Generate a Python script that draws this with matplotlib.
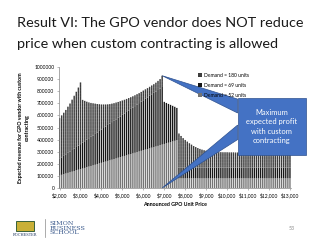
import matplotlib as mpl
mpl.use('Agg')
import matplotlib.pyplot as plt
from matplotlib.patches import Polygon, Rectangle

plt.rcParams['font.family'] = ['Lato', 'DejaVu Sans']
plt.rcParams['hatch.linewidth'] = 0.5

# announced GPO unit price, one bar per $100
prices = list(range(2000, 13100, 100))

# top of the stack (thousands)
total = [578, 600, 622, 645, 672, 698, 730, 762, 795, 830, 872,
         728, 720, 713, 707, 703, 700, 697, 694, 692, 690,
         690, 690, 691, 693, 697, 701, 706, 711, 717, 723,
         729, 736, 743, 750, 758, 766, 775, 784, 794, 805,
         815, 825, 836, 847, 858, 870, 885, 900, 928,
         712, 703, 695, 687, 679, 671, 662,
         450, 430, 412, 397, 383, 370, 358, 347, 338, 330,
         323, 317, 312, 308, 305, 302, 300, 298, 297, 296,
         296, 295, 295, 295, 294, 294, 294, 293, 293, 293,
         292, 292, 292, 292, 291, 291, 291, 291, 290, 290,
         290, 290, 290, 289, 289, 289, 289, 289, 288, 288,
         288, 288, 288, 288]

# Demand = 52 units (bottom layer, thousands)
d52 = [104, 109, 114, 120, 125, 130, 135, 140, 146, 151, 156,
       161, 166, 172, 177, 182, 187, 192, 198, 203, 208,
       213, 218, 224, 229, 234, 239, 244, 250, 255, 260,
       265, 270, 276, 281, 286, 291, 296, 302, 307, 312,
       317, 322, 328, 333, 338, 343, 348, 354, 359,
       364, 369, 374, 380, 385, 390, 395,
       80, 80, 80, 80, 80, 80, 80, 80, 80, 80,
       80, 80, 80, 80, 80, 80, 80, 80, 80, 80,
       80, 80, 80, 80, 80, 80, 80, 80, 80, 80,
       80, 80, 80, 80, 80, 80, 80, 80, 80, 80,
       80, 80, 80, 80, 80, 80, 80, 80, 80, 80,
       80, 80, 80, 80]

# Demand = 69 units (middle layer, thousands)
d69 = [138, 145, 152, 159, 166, 173, 179, 186, 193, 200, 207,
       214, 221, 228, 235, 242, 248, 255, 262, 269, 276,
       283, 290, 297, 304, 311, 317, 324, 331, 338, 345,
       352, 359, 366, 373, 380, 386, 393, 400, 407, 414,
       421, 428, 435, 442, 449, 455, 462, 469, 476,
       348, 334, 321, 307, 294, 281, 267,
       90, 90, 90, 90, 90, 90, 90, 90, 90, 90,
       90, 90, 90, 90, 90, 90, 90, 90, 90, 90,
       90, 90, 90, 90, 90, 90, 90, 90, 90, 90,
       90, 90, 90, 90, 90, 90, 90, 90, 90, 90,
       90, 90, 90, 90, 90, 90, 90, 90, 90, 90,
       90, 90, 90, 90]

# Demand = 180 units is whatever is left up to the top
d180 = [t - a - b for t, a, b in zip(total, d52, d69)]

y52 = [v * 1000 for v in d52]
y69 = [v * 1000 for v in d69]
y180 = [v * 1000 for v in d180]
base180 = [a + b for a, b in zip(y52, y69)]

fig = plt.figure(figsize=(3.2, 2.4), dpi=100)
W, H = 320.0, 240.0
ax = fig.add_axes([58.5 / W, 1 - 188 / H, (291 - 58.5) / W, (188 - 67) / H])

bw = 65
b1 = ax.bar(prices, y52, bw, color='#747474', lw=0, snap=False)
b2 = ax.bar(prices, y69, bw, bottom=y52, color='#161616', lw=0, snap=False)
b3 = ax.bar(prices, y180, bw, bottom=base180, facecolor='#c4c4c4', edgecolor='#333333',
            hatch='-' * 22, lw=0, snap=False)

ax.set_xlim(1950, 13050)
ax.set_ylim(0, 1000000)
ax.set_yticks(range(0, 1000001, 100000))
ax.set_yticklabels([str(v) for v in range(0, 1000001, 100000)])
ax.set_xticks(range(2000, 13001, 1000))
ax.set_xticklabels(['${:,}'.format(p) for p in range(2000, 13001, 1000)])
ax.tick_params(labelsize=3.6, length=1.5, width=0.4, color='#868686', pad=1.5)
for s in ['top', 'right']:
    ax.spines[s].set_visible(False)
for s in ['left', 'bottom']:
    ax.spines[s].set_color('#868686')
    ax.spines[s].set_linewidth(0.5)

ax.set_xlabel('Announced GPO Unit Price', fontsize=3.8, fontweight='bold', labelpad=3)
ax.set_ylabel('Expected revenue for GPO vendor with custom\ncontracting', fontsize=3.8,
              fontweight='bold', labelpad=3, linespacing=1.5)

ax.legend([b3, b2, b1], ['Demand = 180 units', 'Demand = 69 units', 'Demand = 52 units'],
          loc='upper left', bbox_to_anchor=(195 / W, 1 - 70 / H), bbox_transform=fig.transFigure,
          frameon=False, fontsize=3.6, handlelength=0.9, handleheight=0.9, handletextpad=0.4,
          labelspacing=1.05, borderpad=0)

# callout
blue, dark = '#4472C4', '#2F528F'
up = Polygon([(6900, 928000), (10500, 735000), (10500, 620000)], closed=True,
             facecolor=blue, edgecolor=dark, lw=0.5, clip_on=False, zorder=5)
low = Polygon([(6900, 0), (10500, 520000), (10500, 400000)], closed=True,
              facecolor=blue, edgecolor=dark, lw=0.5, clip_on=False, zorder=5)
box = Rectangle((10500, 273000), 3260, 471000, facecolor=blue, edgecolor=dark, lw=0.5,
                clip_on=False, zorder=6)
ax.add_patch(up)
ax.add_patch(low)
ax.add_patch(box)
ax.text(12130, 508000, 'Maximum\nexpected profit\nwith custom\ncontracting', color='white',
        fontsize=5.4, ha='center', va='center', linespacing=1.35, zorder=7)

# slide title
fig.text(17 / W, 1 - 26.7 / H, 'Result VI: The GPO vendor does NOT reduce', fontsize=10.4,
         color='#1a1a1a', va='baseline')
fig.text(17 / W, 1 - 48.3 / H, 'price when custom contracting is allowed', fontsize=10.4,
         color='#1a1a1a', va='baseline')

# footer: logo and page number
fig.patches.append(Rectangle((16 / W, 1 - 231 / H), 18 / W, 10 / H, transform=fig.transFigure,
                             facecolor='#c9b037', edgecolor='#1d4e2a', lw=0.6))
fig.text(25 / W, 1 - 235 / H, 'ROCHESTER', fontsize=2.6, color='#1d3560', ha='center',
         va='center', family='DejaVu Serif')
fig.lines.append(plt.Line2D([45 / W, 45 / W], [1 - 219 / H, 1 - 237 / H], transform=fig.transFigure,
                            color='#8a8a8a', lw=0.5))
fig.text(50 / W, 1 - 228 / H, 'SIMON\nBUSINESS\nSCHOOL', fontsize=4.6, color='#3b5a8c',
         va='center', ha='left', family='DejaVu Serif', linespacing=0.95)
fig.text(292 / W, 1 - 228 / H, '53', fontsize=3.8, color='#8a8a8a', ha='center', va='center')

fig.savefig('out.png', dpi=100)
